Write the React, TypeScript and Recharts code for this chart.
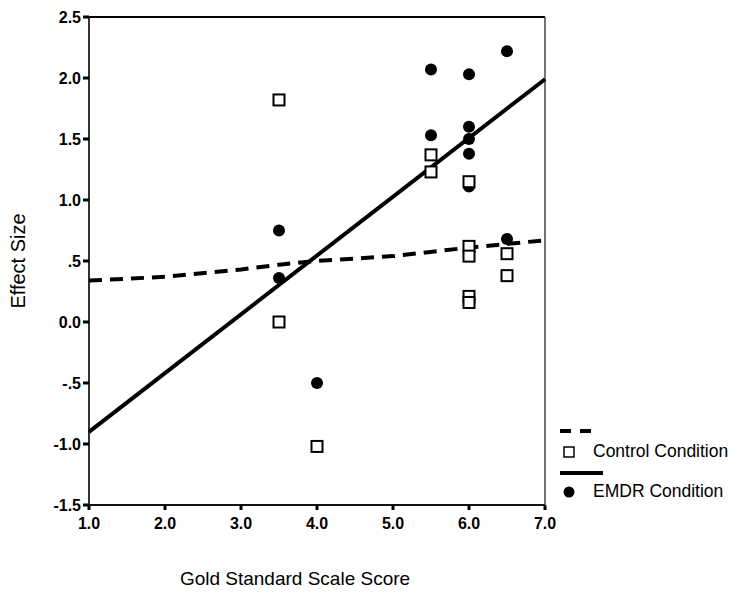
import {
  ComposedChart,
  Scatter,
  XAxis,
  YAxis,
  ReferenceLine,
} from "recharts"

if (typeof document !== "undefined") {
  document.body.style.margin = "0"
}

const FONT = "'Liberation Sans', Arial, sans-serif"

const xTicks = [1, 2, 3, 4, 5, 6, 7]
const yTicks = [-1.5, -1, -0.5, 0, 0.5, 1, 1.5, 2, 2.5]

const controlScores = [3.5, 3.5, 4.0, 5.5, 5.5, 6.0, 6.0, 6.0, 6.0, 6.0, 6.5, 6.5]
const controlEffects = [1.82, 0.0, -1.02, 1.37, 1.23, 1.15, 0.62, 0.54, 0.21, 0.16, 0.56, 0.38]

const emdrScores = [3.5, 3.5, 4.0, 5.5, 5.5, 6.0, 6.0, 6.0, 6.0, 6.0, 6.5, 6.5]
const emdrEffects = [0.75, 0.36, -0.5, 2.07, 1.53, 2.03, 1.6, 1.5, 1.38, 1.11, 2.22, 0.68]

const controlFitX = [1, 2, 3, 3.5, 4, 5, 6, 7]
const controlFitY = [0.34, 0.37, 0.43, 0.47, 0.5, 0.54, 0.61, 0.67]

const emdrFitX = [1, 7]
const emdrFitY = [-0.9, 1.99]

const zip = (xs: number[], ys: number[]) => xs.map((x, i) => ({ x, y: ys[i] }))

const controlData = zip(controlScores, controlEffects)
const emdrData = zip(emdrScores, emdrEffects)
const controlFit = zip(controlFitX, controlFitY)
const emdrFit = zip(emdrFitX, emdrFitY)

const fmtY = (v: number) => {
  const s = v.toFixed(1)
  if (v !== 0 && Math.abs(v) < 1) return s.replace("0.", ".")
  return s
}

const SquareMark = (props: any) => {
  const { cx, cy } = props
  if (cx == null || cy == null) return <g />
  return (
    <rect x={cx - 5.5} y={cy - 5.5} width={11} height={11} fill="#fff" stroke="#000" strokeWidth={2} />
  )
}

const DotMark = (props: any) => {
  const { cx, cy } = props
  if (cx == null || cy == null) return <g />
  return <circle cx={cx} cy={cy} r={6} fill="#000" />
}

const NoMark = () => <g />

// legend drawn as an overlay so it does not shrink the plot
const LegendBox = () => (
  <svg
    width={176}
    height={90}
    style={{ position: "absolute", left: 555, top: 420, display: "block" }}
  >
    <line x1={5} y1={11} x2={40} y2={11} stroke="#000" strokeWidth={4} strokeDasharray="11 9" />
    <rect x={9} y={27} width={10} height={10} fill="#fff" stroke="#000" strokeWidth={1.5} />
    <text x={38} y={32} dominantBaseline="middle" fontFamily={FONT} fontSize={17.5} fill="#000">
      Control Condition
    </text>
    <line x1={5} y1={53} x2={48} y2={53} stroke="#000" strokeWidth={4} />
    <circle cx={14} cy={72} r={5.5} fill="#000" />
    <text x={38} y={72} dominantBaseline="middle" fontFamily={FONT} fontSize={17.5} fill="#000">
      EMDR Condition
    </text>
  </svg>
)

export default function App() {
  return (
    <div style={{ position: "relative", background: "#fff", width: 731, height: 592 }}>
      <ComposedChart
        width={731}
        height={592}
        margin={{ top: 17, right: 186, bottom: 0, left: 0 }}
      >
        <XAxis
          dataKey="x"
          type="number"
          domain={[1, 7]}
          ticks={xTicks}
          tickFormatter={(v) => v.toFixed(1)}
          height={87}
          tickSize={5}
          tickMargin={8}
          axisLine={{ stroke: "#111", strokeWidth: 2 }}
          tickLine={{ stroke: "#000", strokeWidth: 3 }}
          tick={{ fill: "#000", fontSize: 16, fontWeight: 700, fontFamily: FONT }}
          label={{
            value: "Gold Standard Scale Score",
            position: "insideBottom",
            offset: 7,
            dx: -22,
            fill: "#000",
            fontSize: 19,
            fontFamily: FONT,
          }}
        />
        <YAxis
          dataKey="y"
          type="number"
          domain={[-1.5, 2.5]}
          ticks={yTicks}
          tickFormatter={fmtY}
          width={89}
          tickSize={6}
          tickMargin={2}
          axisLine={{ stroke: "#333", strokeWidth: 2 }}
          tickLine={{ stroke: "#000", strokeWidth: 3 }}
          tick={{ fill: "#000", fontSize: 16, fontWeight: 700, fontFamily: FONT }}
          label={{
            value: "Effect Size",
            angle: -90,
            position: "insideLeft",
            offset: 18,
            style: { textAnchor: "middle" },
            fill: "#000",
            fontSize: 20,
            fontFamily: FONT,
          }}
        />
        <ReferenceLine y={2.5} stroke="#000" strokeWidth={2} />
        <ReferenceLine x={7} stroke="#444" strokeWidth={1.5} />
        <Scatter
          data={controlFit}
          line={{ stroke: "#000", strokeWidth: 4, strokeDasharray: "13 8" }}
          shape={NoMark}
          isAnimationActive={false}
        />
        <Scatter
          data={emdrFit}
          line={{ stroke: "#000", strokeWidth: 4 }}
          shape={NoMark}
          isAnimationActive={false}
        />
        <Scatter data={emdrData} shape={DotMark} isAnimationActive={false} />
        <Scatter data={controlData} shape={SquareMark} isAnimationActive={false} />
      </ComposedChart>
      <LegendBox />
    </div>
  )
}
